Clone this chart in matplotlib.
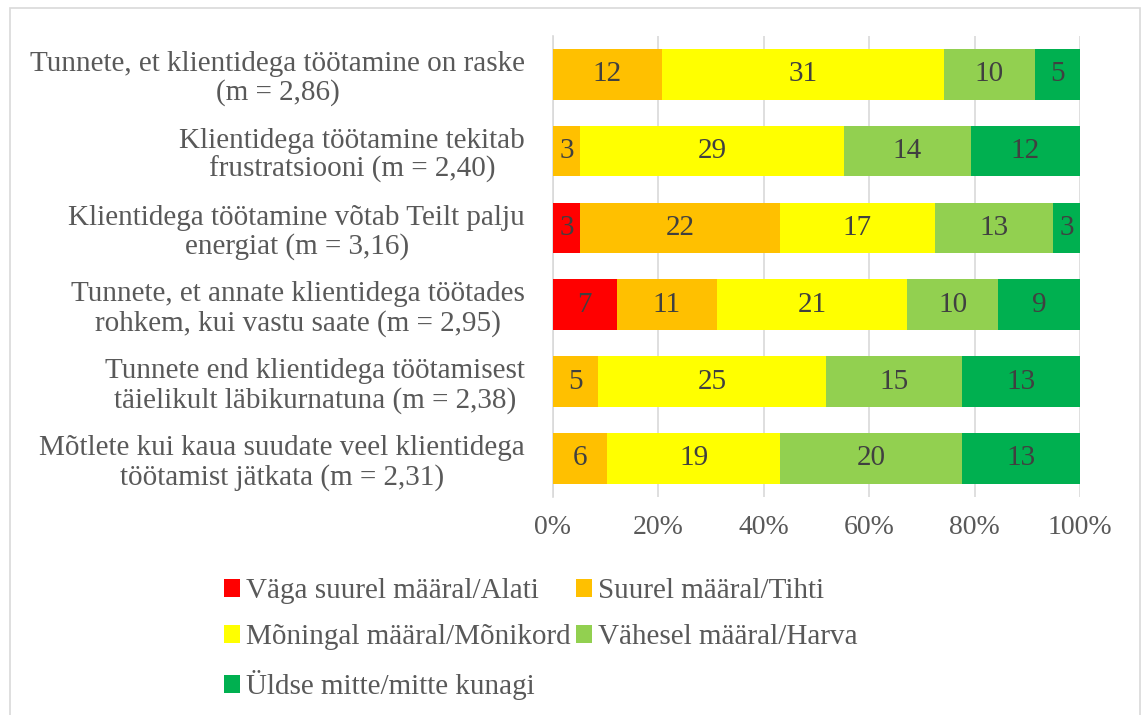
import matplotlib.pyplot as plt
import numpy as np
from matplotlib.patches import Rectangle

# statements, top to bottom
statements = [
    'Tunnete, et klientidega töötamine on raske\n(m = 2,86)',
    'Klientidega töötamine tekitab\nfrustratsiooni (m = 2,40)',
    'Klientidega töötamine võtab Teilt palju\nenergiat (m = 3,16)',
    'Tunnete, et annate klientidega töötades\nrohkem, kui vastu saate (m = 2,95)',
    'Tunnete end klientidega töötamisest\ntäielikult läbikurnatuna (m = 2,38)',
    'Mõtlete kui kaua suudate veel klientidega\ntöötamist jätkata (m = 2,31)',
]

categories = [
    'Väga suurel määral/Alati',
    'Suurel määral/Tihti',
    'Mõningal määral/Mõnikord',
    'Vähesel määral/Harva',
    'Üldse mitte/mitte kunagi',
]

# counts per statement, one list per answer category
alati = [0, 0, 3, 7, 0, 0]
tihti = [12, 3, 22, 11, 5, 6]
monikord = [31, 29, 17, 21, 25, 19]
harva = [10, 14, 13, 10, 15, 20]
mitte = [5, 12, 3, 9, 13, 13]

colors = ['#FF0000', '#FFC000', '#FFFF00', '#92D050', '#00B050']
text_color = '#595959'

plt.rcParams['font.family'] = ['Liberation Serif', 'DejaVu Serif']

counts = np.array([alati, tihti, monikord, harva, mitte], dtype=float)
totals = counts.sum(axis=0)
shares = counts / totals

fig = plt.figure(figsize=(11.42, 7.15), dpi=100)
ax = fig.add_axes([0.4842, 0.305, 0.4615, 0.645])

y = np.arange(len(statements))
left = np.zeros(len(statements))
handles = []
for i, cat in enumerate(categories):
    bars = ax.barh(y, shares[i], left=left, height=0.66, color=colors[i],
                   label=cat, zorder=3)
    handles.append(bars)
    for j in range(len(statements)):
        if counts[i, j] > 0:
            ax.text(left[j] + shares[i, j] / 2, y[j], '%d' % counts[i, j],
                    ha='center', va='center', fontsize=21, color='#404040',
                    zorder=4)
    left += shares[i]

ax.set_ylim(len(statements) - 0.5, -0.5)
ax.set_xlim(0, 1)
ax.set_xticks(np.linspace(0, 1, 6))
ax.set_xticklabels(['%d%%' % v for v in range(0, 101, 20)], fontsize=20)
ax.set_yticks(y)
ax.set_yticklabels(statements, multialignment='center', linespacing=1.12,
                   fontsize=21)
ax.tick_params(axis='both', length=0, colors=text_color)
ax.tick_params(axis='x', pad=13)
ax.tick_params(axis='y', pad=20)
ax.grid(axis='x', color='#D9D9D9', linewidth=1.2, zorder=0)
for side in ['top', 'right', 'bottom']:
    ax.spines[side].set_visible(False)
ax.spines['left'].set_color('#D9D9D9')
ax.spines['left'].set_linewidth(1.2)

order = [0, 2, 4, 1, 3]
leg = fig.legend([handles[k] for k in order], [categories[k] for k in order],
                 ncol=2, loc='upper left', bbox_to_anchor=(0.196, 0.191),
                 frameon=False, fontsize=21, handlelength=0.55,
                 handleheight=0.55, handletextpad=0.2, columnspacing=0.2,
                 labelspacing=0.68, borderaxespad=0, borderpad=0)
for t in leg.get_texts():
    t.set_color(text_color)

# outer chart border
fig.patches.append(Rectangle((10 / 1142, -0.01), 1130 / 1142, 1 - 8 / 715 + 0.01,
                             transform=fig.transFigure, fill=False,
                             edgecolor='#D9D9D9', linewidth=1.2))

fig.savefig('out.png', dpi=100)
